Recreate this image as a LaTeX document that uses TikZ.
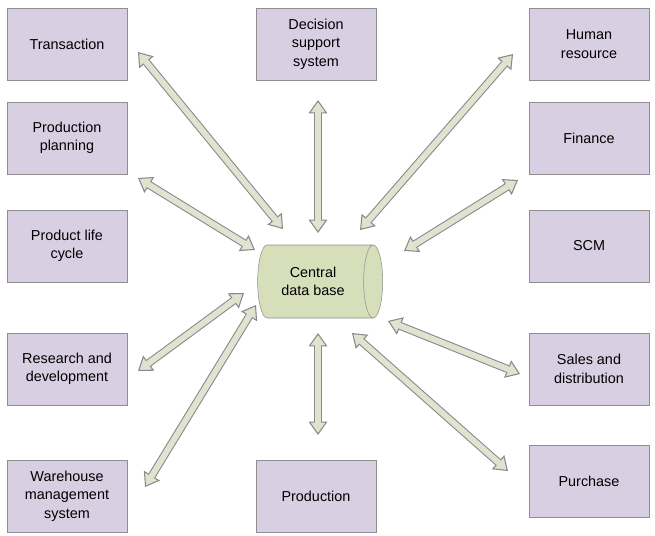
\documentclass[tikz,border=0pt]{standalone}
\usepackage{fontspec}
\setmainfont{Liberation Sans}
\usetikzlibrary{shapes.geometric,arrows.meta}

\definecolor{boxfill}{HTML}{D9CFE3}
\definecolor{boxline}{HTML}{8E8E8E}
\definecolor{dbfill}{HTML}{D7DFBA}
\definecolor{linkfill}{HTML}{E0E3CF}
\definecolor{linkline}{HTML}{8A8A8A}

\begin{document}
\begin{tikzpicture}[
        x=0.75pt, y=-0.75pt,
        % common looks
        module/.style={
            rectangle, draw=boxline, fill=boxfill,
            minimum width=90pt, minimum height=54pt,
            align=center, text=black,
            font=\fontsize{10.8pt}{13.9pt}\selectfont
        },
        database/.style={
            cylinder, shape border rotate=0, aspect=0.5,
            draw=boxline, cylinder uses custom fill,
            cylinder body fill=dbfill, cylinder end fill=dbfill,
            minimum width=54.75pt, minimum height=93.75pt,
            align=center, text=black,
            font=\fontsize{10.8pt}{13.9pt}\selectfont
        },
        link/.style={
            draw=linkline, line width=6pt,
            arrows={Triangle[length=10pt,width=14pt,fill=linkfill,line width=0.8pt]-Triangle[length=10pt,width=14pt,fill=linkfill,line width=0.8pt]},
            postaction={draw=linkfill, line width=4.4pt, arrows=-, shorten <=9pt, shorten >=9pt}
        }
    ]
        \useasboundingbox (0,0) rectangle (655,535);

        % modules, left column
        \node[module] (trans) at (67,44) {Transaction};
        \node[module] (plan) at (67,138) {Production\\planning};
        \node[module] (plc) at (67,246) {Product life\\cycle};
        \node[module] (rnd) at (67,369) {Research and\\development};
        \node[module] (wms) at (67,496) {Warehouse\\management\\system};

        % modules, middle
        \node[module] (dss) at (316,44) {Decision\\support\\system};
        \node[module] (prod) at (316,496) {Production};

        % modules, right column
        \node[module] (hr) at (589,44) {Human\\resource};
        \node[module] (fin) at (589,138) {Finance};
        \node[module] (scm) at (589,246) {SCM};
        \node[module] (sales) at (589,369) {Sales and\\distribution};
        \node[module] (purch) at (589,481) {Purchase};

        % central data base
        \node[database] (db) at (313,281.5) {Central\\data base};

        % arrow ends
        \coordinate (trans-tip) at (138,52);   \coordinate (db-trans) at (283,229);
        \coordinate (plan-tip) at (138,178);   \coordinate (db-plan) at (255,250);
        \coordinate (rnd-tip) at (138,371);    \coordinate (db-rnd) at (244,293);
        \coordinate (wms-tip) at (145,487);    \coordinate (db-wms) at (256,305);
        \coordinate (dss-tip) at (318,100);    \coordinate (db-dss) at (318,233);
        \coordinate (prod-tip) at (318,435);   \coordinate (db-prod) at (318,333);
        \coordinate (hr-tip) at (513,54);      \coordinate (db-hr) at (360,230);
        \coordinate (fin-tip) at (518,180);    \coordinate (db-fin) at (404,251);
        \coordinate (sales-tip) at (520,374);  \coordinate (db-sales) at (388,321);
        \coordinate (purch-tip) at (508,471);  \coordinate (db-purch) at (352,333);

        % double arrows
        \draw[link] (trans-tip) -- (db-trans);
        \draw[link] (plan-tip) -- (db-plan);
        \draw[link] (rnd-tip) -- (db-rnd);
        \draw[link] (wms-tip) -- (db-wms);
        \draw[link] (dss-tip) -- (db-dss);
        \draw[link] (prod-tip) -- (db-prod);
        \draw[link] (hr-tip) -- (db-hr);
        \draw[link] (fin-tip) -- (db-fin);
        \draw[link] (sales-tip) -- (db-sales);
        \draw[link] (purch-tip) -- (db-purch);

    \end{tikzpicture}
\end{document}
